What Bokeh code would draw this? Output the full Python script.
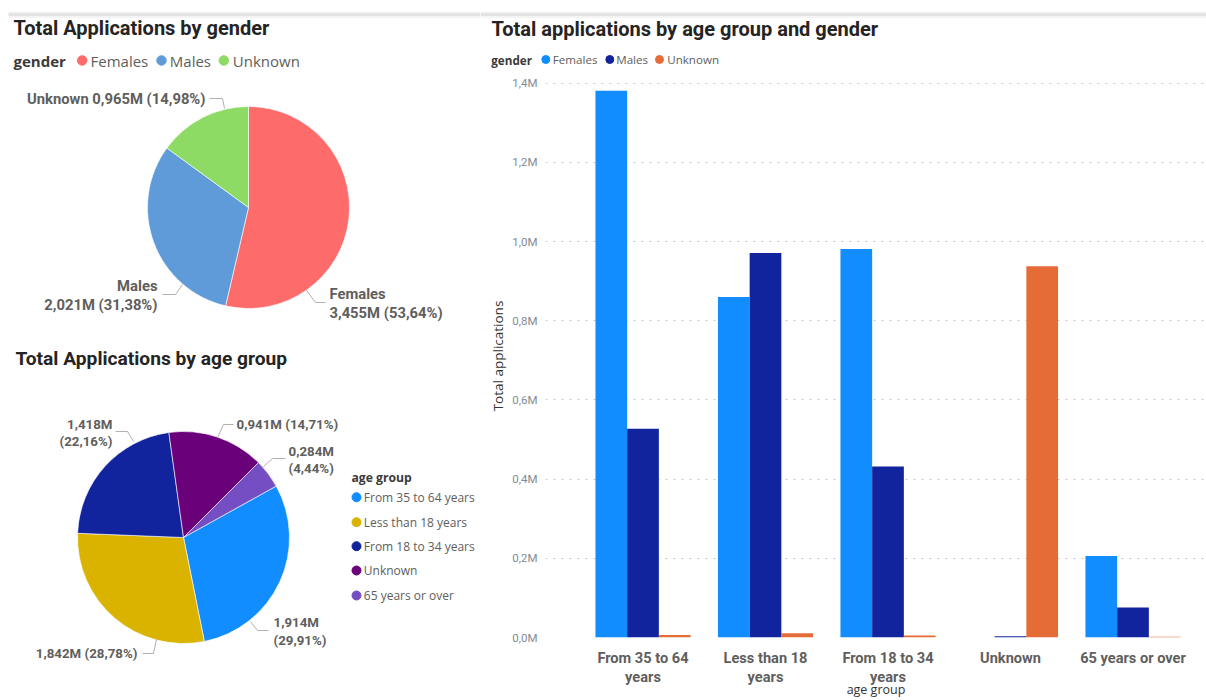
import math

from bokeh.core.properties import value
from bokeh.embed import file_html
from bokeh.layouts import column, row
from bokeh.models import ColumnDataSource, CustomJSTickFormatter, FixedTicker, Range1d
from bokeh.plotting import figure
from bokeh.resources import INLINE
from bokeh.transform import dodge

# ---------------------------------------------------------------- data (millions)
gender_labels = ["Females", "Males", "Unknown"]
gender_totals = [3.455, 2.021, 0.965]
gender_colors = ["#FD6B6B", "#5F9BD8", "#8DDA64"]

age_labels = ["From 35 to 64 years", "Less than 18 years", "From 18 to 34 years",
              "Unknown", "65 years or over"]
age_totals = [1.9139, 1.8416, 1.4182, 0.9412, 0.2841]
age_colors = ["#118DFF", "#D9B300", "#12239E", "#6B007B", "#744EC2"]

bar_categories = ["From 35 to 64\nyears", "Less than 18\nyears", "From 18 to 34\nyears",
                  "Unknown", "65 years or over"]
bar_genders = ["Females", "Males", "Unknown"]
bar_females = [1.381, 0.860, 0.981, 0.0, 0.206]
bar_males = [0.527, 0.971, 0.432, 0.003, 0.076]
bar_unknown = [0.006, 0.011, 0.005, 0.938, 0.002]
bar_colors = ["#118DFF", "#12239E", "#E66C37"]
y_ticks = [0.0, 0.2, 0.4, 0.6, 0.8, 1.0, 1.2, 1.4]

# ---------------------------------------------------------------- styling
HEAD_FONT = "Roboto"
UI_FONT = "Open Sans"
TITLE_COLOR = "#252423"
LABEL_COLOR = "#605E5C"
LEGEND_HEAD = "#3B3A39"
LEADER_COLOR = "#B3B0AD"


def canvas(width, height, x0=0):
    """A plain drawing surface whose data units are pixels (y measured up)."""
    p = figure(width=width, height=height, x_range=Range1d(x0, x0 + width),
               y_range=Range1d(0, height), x_axis_type=None, y_axis_type=None,
               min_border=0, toolbar_location=None, output_backend="svg",
               outline_line_color=None)
    p.background_fill_color = "white"
    p.border_fill_color = "white"
    p.frame_align = False
    return p


def put_text(p, xs, ys, texts, size, font=UI_FONT, bold=False, color=LABEL_COLOR,
             align="left"):
    p.text(x=xs, y=ys, text=texts, text_font=value(font), text_font_size=size,
           text_font_style="bold" if bold else "normal", text_color=color,
           text_align=align, text_baseline="middle")


def fmt_m(v):
    return f"{v:.3f}".replace(".", ",") + "M"


def fmt_pct(v, total):
    return "(" + f"{100 * v / total:.2f}".replace(".", ",") + "%)"


def pie(p, cx, cy, r, values, colors, rotation_deg):
    """Clockwise pie, first slice starting rotation_deg clockwise from 12 o'clock."""
    total = sum(values)
    base = math.radians(90 - rotation_deg)
    starts, ends, acc = [], [], 0.0
    for v in values:
        starts.append(base - 2 * math.pi * acc / total)
        acc += v
        ends.append(base - 2 * math.pi * acc / total)
    src = ColumnDataSource(dict(start=starts, end=ends, color=colors))
    p.wedge(x=cx, y=cy, radius=r, start_angle="start", end_angle="end",
            direction="clock", fill_color="color", line_color="white",
            line_width=0.6, source=src)


def shadow_band(p, x0, x1, H):
    p.quad(left=x0, right=x1, top=H - 11, bottom=H - 17.5, fill_color="#F4F4F4",
           line_color=None)
    p.quad(left=x0, right=x1, top=H - 12.5, bottom=H - 15.5, fill_color="#E3E3E3",
           line_color=None)


# ================================================================ left column
LW, LH = 480, 700
left = canvas(LW, LH)


def Y(py):
    return LH - py


shadow_band(left, 8, LW, LH)

# --- gender pie
put_text(left, [13], [Y(27)], ["Total Applications by gender"], "20px",
         font=HEAD_FONT, bold=True, color=TITLE_COLOR)
put_text(left, [13], [Y(60)], ["gender"], "15px", bold=True, color=LEGEND_HEAD)
left.scatter(x=[81.7, 161, 223.3], y=[Y(60)] * 3, size=9.5, marker="circle",
             color=gender_colors)
put_text(left, [90, 169.3, 232.3], [Y(60)] * 3, gender_labels, "15px")

pie(left, 248, Y(207), 101, gender_totals, gender_colors, 0)

g_total = sum(gender_totals)
g_val = [fmt_m(v) for v in gender_totals]
g_pct = [fmt_pct(v, g_total) for v in gender_totals]
PIE1_LBL = "14.8px"
put_text(left, [205], [Y(98)], [f"{gender_labels[2]} {g_val[2]} {g_pct[2]}"], PIE1_LBL,
         font=HEAD_FONT, bold=True, align="right")
put_text(left, [157, 157], [Y(285), Y(304)], [gender_labels[1], f"{g_val[1]} {g_pct[1]}"],
         PIE1_LBL, font=HEAD_FONT, bold=True, align="right")
put_text(left, [329, 329], [Y(293), Y(312)], [gender_labels[0], f"{g_val[0]} {g_pct[0]}"],
         PIE1_LBL, font=HEAD_FONT, bold=True)
left.multi_line(xs=[[209, 222, 224], [162, 175, 182], [306, 315, 325]],
                ys=[[Y(98), Y(98), Y(108)], [Y(294), Y(294), Y(284)],
                    [Y(290), Y(302), Y(302)]],
                line_color=LEADER_COLOR, line_width=1)

# --- age group pie
put_text(left, [15], [Y(358)], ["Total Applications by age group"], "19.2px",
         font=HEAD_FONT, bold=True, color=TITLE_COLOR)

pie(left, 183, Y(537), 106, age_totals, age_colors, 61)

a_total = sum(age_totals)
a_val = [fmt_m(v) for v in age_totals]
a_pct = [fmt_pct(v, a_total) for v in age_totals]
AGE_LBL = "13.3px"
# From 35 to 64 years
put_text(left, [273, 273], [Y(622), Y(640)], [a_val[0], a_pct[0]], AGE_LBL,
         font=HEAD_FONT, bold=True)
# Less than 18 years
put_text(left, [137], [Y(653)], [f"{a_val[1]} {a_pct[1]}"], AGE_LBL,
         font=HEAD_FONT, bold=True, align="right")
# From 18 to 34 years
put_text(left, [112, 112], [Y(424), Y(441)], [a_val[2], a_pct[2]], AGE_LBL,
         font=HEAD_FONT, bold=True, align="right")
# Unknown
put_text(left, [236], [Y(424)], [f"{a_val[3]} {a_pct[3]}"], AGE_LBL,
         font=HEAD_FONT, bold=True)
# 65 years or over
put_text(left, [288, 288], [Y(451), Y(468)], [a_val[4], a_pct[4]], AGE_LBL,
         font=HEAD_FONT, bold=True)
left.multi_line(xs=[[250, 257, 268], [142, 153, 156], [115, 127, 133],
                    [217, 223, 233], [263, 272, 285]],
                ys=[[Y(621), Y(630), Y(630)], [Y(653), Y(653), Y(639)],
                    [Y(431), Y(431), Y(441)], [Y(437), Y(424), Y(424)],
                    [Y(466), Y(458), Y(458)]],
                line_color=LEADER_COLOR, line_width=1)

legend_rows = [496.7, 521.7, 545.7, 570, 595]
put_text(left, [351], [Y(477)], ["age group"], "12.2px", bold=True, color=LEGEND_HEAD)
left.scatter(x=[356] * 5, y=[Y(v) for v in legend_rows], size=9, marker="circle",
             color=age_colors)
put_text(left, [363.3] * 5, [Y(v) for v in legend_rows], age_labels, "12px")

# ================================================================ right column
RW, TH = 726, 70
head = canvas(RW, TH, x0=LW)
shadow_band(head, LW, LW + RW, TH)
put_text(head, [491], [TH - 28], ["Total applications by age group and gender"], "20px",
         font=HEAD_FONT, bold=True, color=TITLE_COLOR)
put_text(head, [490.7], [TH - 59], ["gender"], "11.7px", bold=True, color=LEGEND_HEAD)
head.scatter(x=[545.3, 609.3, 659], y=[TH - 59] * 3, size=8, marker="circle",
             color=bar_colors)
put_text(head, [552.3, 615.7, 666.7], [TH - 59] * 3, bar_genders, "11.6px")

bar_src = ColumnDataSource(dict(pos=list(range(len(bar_categories))),
                                females=bar_females, males=bar_males,
                                unknown=bar_unknown))
# frame: 4 px top border, 563 px plot area, 72 px bottom border (the figure runs a
# few blank pixels past the page bottom)
BORDER_TOP, FRAME_H, BORDER_BOTTOM = 4, 563, 72
bars = figure(width=RW, height=BORDER_TOP + FRAME_H + BORDER_BOTTOM,
              x_range=Range1d(-0.796, 4.6), y_range=Range1d(0, 1.422),
              toolbar_location=None, output_backend="svg",
              min_border_left=65, min_border_right=0, min_border_top=BORDER_TOP,
              min_border_bottom=BORDER_BOTTOM, outline_line_color=None)
bars.background_fill_color = "white"
bars.border_fill_color = "white"
bars.frame_align = False

BW = 0.2588
for field, off, col in zip(["females", "males", "unknown"], [-BW, 0, BW], bar_colors):
    bars.vbar(x=dodge("pos", off), top=field, width=BW, source=bar_src,
              fill_color=col, line_color=None)

bars.xaxis.ticker = FixedTicker(ticks=list(range(len(bar_categories))))
bars.xaxis.major_label_overrides = {i: c for i, c in enumerate(bar_categories)}
bars.xaxis.axis_label = "age group"
bars.yaxis.ticker = FixedTicker(ticks=y_ticks)
bars.yaxis.formatter = CustomJSTickFormatter(
    code="return tick.toFixed(1).replace('.', ',') + 'M'")
bars.yaxis.axis_label = "Total applications"

for ax in (bars.xaxis[0], bars.yaxis[0]):
    ax.axis_line_color = None
    ax.major_tick_line_color = None
    ax.minor_tick_line_color = None
    ax.major_tick_out = 0
    ax.major_tick_in = 0
    ax.axis_label_text_font = UI_FONT
    ax.axis_label_text_font_style = "normal"
    ax.axis_label_text_color = "#333333"

bars.xaxis.major_label_text_font = HEAD_FONT
bars.xaxis.major_label_text_font_style = "bold"
bars.xaxis.major_label_text_font_size = "14.6px"
bars.xaxis.major_label_text_color = "#5F5E5C"
bars.xaxis.major_label_text_line_height = 1.1
bars.xaxis.major_label_standoff = 11
bars.xaxis.axis_label_text_font_size = "12.5px"
bars.xaxis.axis_label_standoff = -8

bars.yaxis.major_label_text_font = HEAD_FONT
bars.yaxis.major_label_text_font_size = "11.5px"
bars.yaxis.major_label_text_color = "#858A92"
bars.yaxis.major_label_standoff = 8
bars.yaxis.axis_label_text_font_size = "13.5px"
bars.yaxis.axis_label_standoff = 2

bars.xgrid.visible = False
bars.ygrid.grid_line_color = "#C8C6C4"
bars.ygrid.grid_line_dash = "2 6"
bars.ygrid.grid_line_width = 1

layout = row(left, column(head, bars))

with open("out.html", "w") as f:
    f.write(file_html(layout, INLINE))
